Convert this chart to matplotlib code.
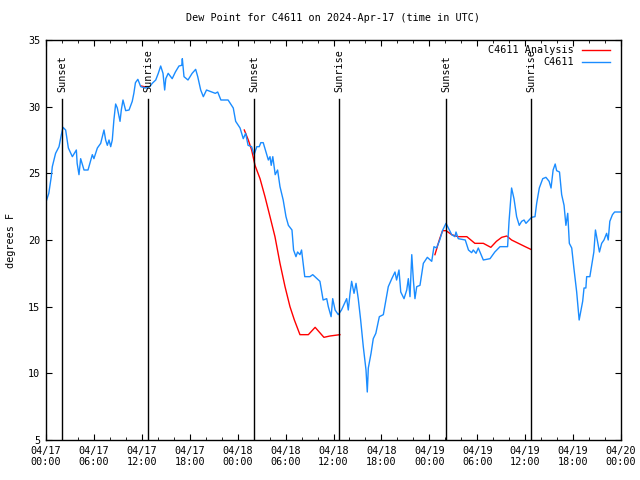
import matplotlib
matplotlib.use('Agg')
import matplotlib.pyplot as plt
from matplotlib.lines import Line2D
import numpy as np

# hours since 04/17 00:00 UTC
obs_hours = [0.08, 0.35, 0.66, 0.79, 1.2, 1.63, 1.92, 2.13, 2.46, 2.8, 3.3, 3.8, 3.9, 4.13,
             4.34, 4.76, 5.26, 5.8, 6.0, 6.43, 6.85, 7.26, 7.47, 7.68, 7.89, 8.1, 8.3, 8.5,
             8.72, 8.93, 9.27, 9.43, 9.64, 9.98, 10.4, 10.8, 11.0, 11.2, 11.5, 11.86, 12.48,
             13.0, 13.3, 13.74, 14.06, 14.36, 14.65, 14.86, 15.0, 15.3, 15.8, 16.2, 16.65,
             17.0, 17.07, 17.28, 17.78, 18.3, 18.74, 19.0, 19.37, 19.7, 20.1, 20.75, 21.2,
             21.5, 21.9, 22.8, 23.45, 23.75, 24.3, 24.7, 25.0, 25.3, 25.75, 26.05, 26.4,
             26.7, 26.9, 27.2, 27.55, 27.84, 28.05, 28.2, 28.4, 28.7, 29.0, 29.3, 29.7,
             30.05, 30.35, 30.8, 31.0, 31.3, 31.5, 31.8, 32.0, 32.4, 33.05, 33.4, 34.3,
             34.7, 35.15, 35.35, 35.7, 35.9, 36.2, 36.6, 37.0, 37.65, 37.85, 38.07, 38.27,
             38.57, 38.82, 39.1, 39.4, 39.73, 40.07, 40.23, 40.36, 40.7, 40.98, 41.3, 41.74,
             42.24, 42.45, 42.86, 43.3, 43.7, 43.9, 44.2, 44.42, 44.83, 45.17, 45.37, 45.58,
             45.8, 46.0, 46.2, 46.42, 46.83, 47.25, 47.75, 48.3, 48.58, 48.9, 49.3, 49.68,
             50.09, 50.5, 50.8, 51.2, 51.34, 51.62, 52.5, 52.9, 53.3, 53.5, 53.85, 54.13,
             54.76, 55.6, 56.2, 56.85, 57.8, 57.98, 58.3, 58.6, 58.93, 59.26, 59.56, 59.86,
             60.1, 60.8, 61.23, 61.44, 61.77, 62.2, 62.6, 63.0, 63.24, 63.5, 63.76, 63.94,
             64.3, 64.57, 64.87, 65.1, 65.33, 65.53, 65.83, 66.1, 66.45, 66.76, 66.95, 67.2,
             67.37, 67.6, 67.7, 68.1, 68.6, 68.8, 69.3, 69.58, 69.87, 70.2, 70.4, 70.6,
             70.93, 71.2, 71.9]
obs_dewpt = [23.0, 23.5, 24.75, 25.5, 26.5, 27.0, 27.9, 28.45, 28.25, 26.9, 26.25, 26.75, 25.75, 24.9,
             26.1, 25.25, 25.25, 26.4, 26.1, 26.9, 27.25, 28.25, 27.5, 27.1, 27.5, 27.0, 27.5, 29.0,
             30.2, 29.9, 28.9, 29.75, 30.5, 29.7, 29.75, 30.4, 31.0, 31.8, 32.05, 31.5, 31.4,
             31.5, 31.75, 32.0, 32.5, 33.05, 32.5, 31.25, 32.1, 32.5, 32.1, 32.6, 33.05,
             33.1, 33.6, 32.25, 32.0, 32.5, 32.8, 32.25, 31.25, 30.75, 31.25, 31.1, 31.0,
             31.1, 30.5, 30.5, 29.9, 28.9, 28.4, 27.6, 28.0, 27.1, 27.0, 26.4, 27.0,
             27.0, 27.3, 27.3, 26.6, 26.0, 26.25, 25.6, 26.25, 24.9, 25.25, 24.0, 23.0,
             21.75, 21.1, 20.75, 19.25, 18.75, 19.1, 18.9, 19.25, 17.25, 17.25, 17.4, 16.9,
             15.5, 15.6, 15.0, 14.25, 15.6, 14.75, 14.4, 14.75, 15.6, 14.75, 16.0, 16.9,
             16.0, 16.75, 15.6, 14.0, 12.0, 10.25, 8.6, 10.4, 11.5, 12.6, 13.0, 14.25,
             14.4, 15.1, 16.5, 17.1, 17.6, 17.0, 17.75, 16.1, 15.6, 16.25, 17.1, 15.75,
             18.9, 17.0, 15.6, 16.5, 16.6, 18.25, 18.7, 18.4, 19.5, 19.4, 20.0, 20.75,
             21.25, 20.75, 20.4, 20.25, 20.6, 20.1, 20.0, 19.25, 19.05, 19.25, 19.0, 19.4,
             18.5, 18.6, 19.1, 19.5, 19.5, 21.4, 23.9, 23.1, 21.75, 21.1, 21.4, 21.5,
             21.25, 21.7, 21.75, 22.75, 23.9, 24.6, 24.7, 24.4, 23.9, 25.25, 25.7, 25.2,
             25.1, 23.4, 22.6, 21.1, 22.0, 19.75, 19.4, 17.9, 16.1, 14.0, 14.6, 15.4,
             16.4, 16.4, 17.25, 17.25, 19.1, 20.75, 19.1, 19.75, 20.0, 20.5, 20.0, 21.4,
             21.9, 22.1, 22.1]

# analysis, gaps as nan
ana_hours = [11.9, 12.3, 12.7, np.nan,
             24.83, 25.33, 25.75, 26.17, 26.8, 27.42, 28.05, 28.67, 29.3, 29.93, 30.55, 31.1,
             31.8, 32.85, 33.7, 34.8, 35.56, 36.8, np.nan,
             48.7, 49.3, 49.66, 50.09, 50.8, 51.6, 52.7, 53.7, 54.76, 55.7, 56.4, 57.06, 57.7,
             58.3, 59.15, 60.0, 60.7]
ana_dewpt = [31.55, 31.5, 31.45, np.nan,
             28.25, 27.5, 26.75, 25.6, 24.6, 23.25, 21.75, 20.25, 18.25, 16.5, 15.0, 14.0,
             12.9, 12.9, 13.45, 12.7, 12.8, 12.9, np.nan,
             18.9, 20.1, 20.7, 20.7, 20.4, 20.25, 20.25, 19.75, 19.75, 19.45, 19.9, 20.2, 20.3,
             20.0, 19.75, 19.5, 19.3]

event_hours = [2.0, 12.77, 26.05, 36.69, 50.09, 60.73]
event_labels = ['Sunset', 'Sunrise', 'Sunset', 'Sunrise', 'Sunset', 'Sunrise']

xtick_hours = [0, 6, 12, 18, 24, 30, 36, 42, 48, 54, 60, 66, 72]
xtick_labels = ['04/17\n00:00', '04/17\n06:00', '04/17\n12:00', '04/17\n18:00',
                '04/18\n00:00', '04/18\n06:00', '04/18\n12:00', '04/18\n18:00',
                '04/19\n00:00', '04/19\n06:00', '04/19\n12:00', '04/19\n18:00',
                '04/20\n00:00']

mono = 'DejaVu Sans Mono'
fs = 7.3
blue = '#1a8cff'
red = '#ff0000'

fig = plt.figure(figsize=(6.4, 4.8), dpi=100)
ax = fig.add_axes([46 / 640, 1 - 440 / 480, 575 / 640, 400 / 480])

ax.plot(ana_hours, ana_dewpt, color=red, lw=1)
ax.plot(obs_hours, obs_dewpt, color=blue, lw=1)

for h, lab in zip(event_hours, event_labels):
    ax.plot([h, h], [5, 30.6], color='black', lw=1)
    ax.text(h, 31.1, lab, rotation=90, ha='center', va='bottom',
            fontsize=fs, family=mono)

ax.set_xlim(0, 72)
ax.set_ylim(5, 35)
ax.set_xticks(xtick_hours)
ax.set_xticklabels(xtick_labels)
ax.set_xticks(np.arange(0, 73, 2), minor=True)
ax.set_yticks(range(5, 36, 5))
ax.tick_params(which='both', direction='in', top=True, right=True,
               labelsize=fs, pad=4)
ax.tick_params(which='major', length=4)
ax.tick_params(which='minor', length=2)
for lab in ax.get_xticklabels() + ax.get_yticklabels():
    lab.set_family(mono)
for s in ax.spines.values():
    s.set_linewidth(1)

ax.set_ylabel('degrees F', fontsize=fs, family=mono, labelpad=9)
ax.set_title('Dew Point for C4611 on 2024-Apr-17 (time in UTC)',
             fontsize=fs, family=mono, pad=14)

# legend, text right of line
fig.text(574 / 640, 1 - 50 / 480, 'C4611 Analysis', ha='right', va='center',
         fontsize=fs, family=mono)
fig.text(574 / 640, 1 - 62 / 480, 'C4611', ha='right', va='center',
         fontsize=fs, family=mono)
fig.add_artist(Line2D([582 / 640, 610 / 640], [1 - 50 / 480] * 2, color=red, lw=1))
fig.add_artist(Line2D([582 / 640, 610 / 640], [1 - 62 / 480] * 2, color=blue, lw=1))

fig.savefig('out.png', dpi=100)
